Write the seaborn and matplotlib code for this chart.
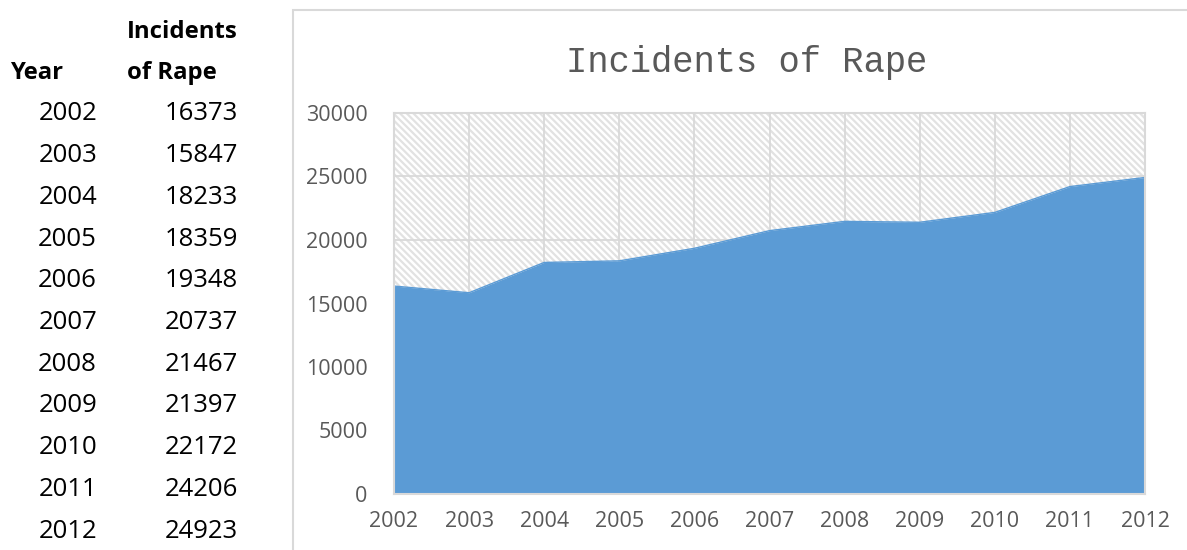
import matplotlib
matplotlib.use("Agg")
import matplotlib.pyplot as plt
from matplotlib.patches import Rectangle
import seaborn as sns
import pandas as pd

# data
years = [2002, 2003, 2004, 2005, 2006, 2007, 2008, 2009, 2010, 2011, 2012]
incidents = [16373, 15847, 18233, 18359, 19348, 20737, 21467, 21397, 22172, 24206, 24923]
yticks = [0, 5000, 10000, 15000, 20000, 25000, 30000]

df = pd.DataFrame({"Year": years, "Incidents": incidents})

sns.set_style("white")
plt.rcParams['font.family'] = ['Open Sans', 'DejaVu Sans']
plt.rcParams['hatch.linewidth'] = 1.6

W, H = 1187, 550
fig = plt.figure(figsize=(W / 100, H / 100), dpi=100)

def fx(px):
    return px / W

def fy(py):
    return 1 - py / H

# left table
fig.text(fx(127), fy(32), "Incidents", ha="left", va="center", fontsize=17.2, fontweight="bold", color="black")
fig.text(fx(10), fy(73), "Year", ha="left", va="center", fontsize=17.2, fontweight="bold", color="black")
fig.text(fx(127), fy(73), "of Rape", ha="left", va="center", fontsize=17.2, fontweight="bold", color="black")
for i, (yr, val) in enumerate(zip(years, incidents)):
    ypix = 114 + i * 41.7
    fig.text(fx(97), fy(ypix), str(yr), ha="right", va="center", fontsize=18.5, color="black")
    fig.text(fx(238), fy(ypix), str(val), ha="right", va="center", fontsize=18.5, color="black")

# chart frame
fig.add_artist(Rectangle((fx(293), -0.05), 1.0, fy(10) + 0.05, transform=fig.transFigure,
                         fill=False, edgecolor="#D9D9D9", linewidth=1.5))

ax = fig.add_axes([fx(394), fy(494), fx(1145) - fx(394), fy(113) - fy(494)])

# hatched background
ax.axvspan(years[0], years[-1], facecolor="white", edgecolor="#E2E2E2", hatch="\\\\\\\\\\",
           linewidth=0, zorder=0.2)
ax.fill_between(df["Year"], 0, df["Incidents"], color="#5B9BD5", linewidth=0, zorder=2)
sns.lineplot(data=df, x="Year", y="Incidents", ax=ax, color="#5B9BD5", linewidth=1, zorder=2.1)

ax.set_xlim(years[0], years[-1])
ax.set_ylim(0, 30000)
ax.set_xticks(years)
ax.set_yticks(yticks)
ax.set_xticklabels([str(y) for y in years])
ax.grid(True, color="#D9D9D9", linewidth=1.3, zorder=0.5)
ax.set_axisbelow(True)
for s in ax.spines.values():
    s.set_color("#D9D9D9")
    s.set_linewidth(1.5)
ax.tick_params(axis="both", length=0, labelsize=15.5, colors="#595959")
ax.tick_params(axis="y", pad=19)
ax.tick_params(axis="x", pad=12)
ax.set_xlabel("")
ax.set_ylabel("")

fig.text(fx(747), fy(62), "Incidents of Rape", ha="center", va="center",
         fontsize=25.6, color="#595959", family=["Liberation Mono", "DejaVu Sans Mono"])

fig.savefig("out.png", dpi=100)
